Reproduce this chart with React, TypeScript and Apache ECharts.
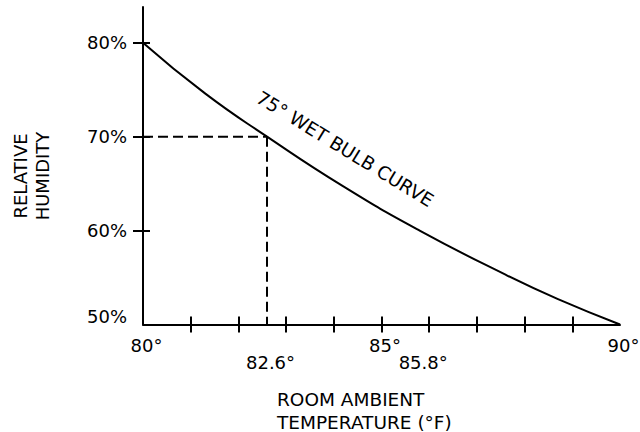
import React, { useEffect, useRef } from "react";
import * as echarts from "echarts";

// ---- data ----
const curveTemps = [80, 81.3, 82.6, 84.2, 85.8, 87.6, 88.7, 90];
const curveRH = [80, 74.6, 70, 64.7, 60, 55.3, 52.7, 50];
const readingTemp = 82.6;
const readingRH = 70;
const xMainLabels = [80, 85, 90];
const xMarkedLabels = [82.6, 85.8];
const xTicks = [81, 82, 83, 84, 85, 86, 87, 88, 89];
const yLabels = [50, 60, 70, 80];
const yTicks = [60, 70, 80];
const curveLabel = "75° WET BULB CURVE";
const yTitle = "RELATIVE\nHUMIDITY";
const xTitle = "ROOM AMBIENT\nTEMPERATURE (°F)";

const FONT = "DejaVu Sans";
const INK = "#000";

export default function App() {
  const ref = useRef<HTMLDivElement>(null);
  useEffect(() => {
    if (!ref.current) return;
    const chart = echarts.init(ref.current, null, { renderer: "svg", width: 640, height: 432 });
    const xMin = 80, xMax = 90, yMin = 50, yMax = 83.8;
    const labelBase = { color: INK, fontFamily: FONT, fontSize: 18 };
    const option: any = {
      animation: false,
      backgroundColor: "#fff",
      grid: { left: 143, right: 20, top: 7, bottom: 107.5, containLabel: false, outerBoundsMode: "none" },
      xAxis: [
        {
          type: "value", position: "bottom", min: xMin, max: xMax,
          axisLine: { show: true, onZero: false, lineStyle: { color: INK, width: 2 } },
          axisTick: { show: true, inside: false, length: 8, customValues: xTicks, lineStyle: { color: INK, width: 2 } },
          axisLabel: {
            ...labelBase, margin: 12, customValues: xMainLabels,
            formatter: (v: number) => `${v}°`, padding: [0, 0, 0, 7],
          },
          splitLine: { show: false },
        },
        {
          type: "value", position: "bottom", min: xMin, max: xMax,
          axisLine: { show: false, onZero: false },
          axisTick: { show: true, inside: true, length: 8, customValues: xTicks, lineStyle: { color: INK, width: 2 } },
          axisLabel: {
            ...labelBase, margin: 29, customValues: xMarkedLabels,
            formatter: (v: number) => `${v}°`, padding: [0, 0, 0, 7],
          },
          splitLine: { show: false },
        },
      ],
      yAxis: [
        {
          type: "value", position: "left", min: yMin, max: yMax,
          axisLine: { show: true, onZero: false, lineStyle: { color: INK, width: 2 } },
          axisTick: { show: true, inside: false, length: 10, customValues: yTicks, lineStyle: { color: INK, width: 2 } },
          axisLabel: {
            ...labelBase, margin: 16, customValues: yLabels,
            formatter: (v: number) => (v === 50 ? `{lo|${v}%}` : `${v}%`),
            rich: { lo: { ...labelBase, padding: [0, 0, 16, 0] } },
          },
          splitLine: { show: false },
        },
        {
          type: "value", position: "left", min: yMin, max: yMax,
          axisLine: { show: false, onZero: false },
          axisTick: { show: true, inside: true, length: 7, customValues: yTicks, lineStyle: { color: INK, width: 2 } },
          axisLabel: { show: false },
          splitLine: { show: false },
        },
      ],
      series: [
        {
          type: "line", xAxisIndex: 0, yAxisIndex: 0, smooth: 0.5, symbol: "none",
          lineStyle: { color: INK, width: 2 },
          data: curveTemps.map((t, i) => [t, curveRH[i]]),
          z: 3,
        },
        {
          type: "line", xAxisIndex: 0, yAxisIndex: 0, symbol: "none",
          lineStyle: { color: INK, width: 2, type: [10, 5] },
          data: [[xMin, readingRH], [readingTemp, readingRH]],
        },
        {
          type: "line", xAxisIndex: 0, yAxisIndex: 0, symbol: "none",
          lineStyle: { color: INK, width: 2, type: [10, 5] },
          data: [[readingTemp, readingRH], [readingTemp, yMin]],
        },
      ],
      graphic: [
        {
          type: "text", x: 345, y: 149, rotation: (-31.5 * Math.PI) / 180,
          style: {
            text: curveLabel, fill: INK, font: `18.5px "${FONT}"`,
            align: "center", verticalAlign: "middle", textAlign: "center", textVerticalAlign: "middle",
          },
        },
        {
          type: "text", x: 31, y: 176, rotation: Math.PI / 2,
          style: {
            text: yTitle, fill: INK, font: `18px "${FONT}"`, lineHeight: 22,
            align: "center", verticalAlign: "middle", textAlign: "center", textVerticalAlign: "middle",
          },
        },
        {
          type: "text", x: 277, y: 388,
          style: {
            text: xTitle, fill: INK, font: `18.5px "${FONT}"`, lineHeight: 23,
            align: "left", verticalAlign: "top", textAlign: "left", textVerticalAlign: "top",
          },
        },
      ],
    };
    chart.setOption(option);
    return () => chart.dispose();
  }, []);
  return (
    <div
      ref={ref}
      style={{ position: "absolute", left: 0, top: 0, width: 640, height: 432, background: "#fff" }}
    />
  );
}
